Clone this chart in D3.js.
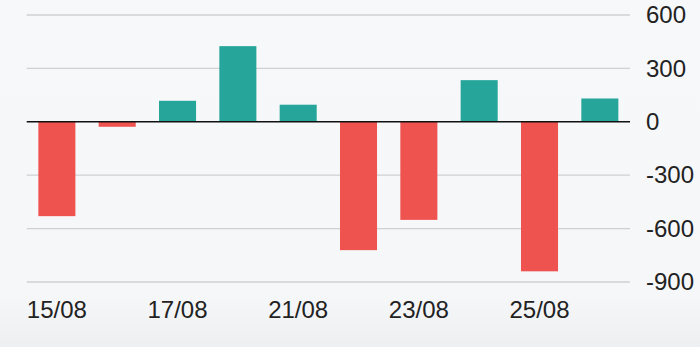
<!DOCTYPE html>
<html>
<head>
<meta charset="utf-8">
<script src="https://cdn.jsdelivr.net/npm/d3@7"></script>
<style>
  html, body { margin: 0; padding: 0; }
  body { width: 700px; height: 347px; overflow: hidden;
         background: linear-gradient(to bottom, #f7f8fa 0%, #f6f7f9 85%, #eeeff1 100%); }
</style>
</head>
<body>
<div id="chart"></div>
<script>
// Daily values (net flow)
const dates = ["15/08", "16/08", "17/08", "20/08", "21/08", "22/08", "23/08", "24/08", "25/08", "26/08"];
const values = [-530, -28, 118, 425, 96, -721, -551, 234, -840, 131];
const shownDates = ["15/08", "17/08", "21/08", "23/08", "25/08"];
const yTicks = [600, 300, 0, -300, -600, -900];

const width = 700, height = 347;
const margin = { left: 26.7, right: 630, top: 15, bottom: 282 };

const svg = d3.select("#chart")
    .append("svg")
    .attr("width", width)
    .attr("height", height);

const x = d3.scaleBand()
    .domain(dates)
    .range([margin.left, margin.right])
    .paddingInner(0.386)
    .paddingOuter(0.193);

const y = d3.scaleLinear()
    .domain([-900, 600])
    .range([margin.bottom, margin.top]);

// Gridlines
svg.append("g")
    .selectAll("line")
    .data(yTicks.filter(d => d !== 0))
    .join("line")
    .attr("x1", margin.left)
    .attr("x2", margin.right)
    .attr("y1", d => y(d))
    .attr("y2", d => y(d))
    .attr("stroke", "#cfd0d3")
    .attr("stroke-width", 1.3);

// Bars
svg.append("g")
    .selectAll("rect")
    .data(values.map((v, i) => ({ date: dates[i], value: v })))
    .join("rect")
    .attr("x", d => x(d.date))
    .attr("width", x.bandwidth())
    .attr("y", d => y(Math.max(0, d.value)))
    .attr("height", d => Math.abs(y(d.value) - y(0)))
    .attr("fill", d => d.value < 0 ? "#ef5350" : "#26a69a");

// Zero line
svg.append("line")
    .attr("x1", margin.left)
    .attr("x2", margin.right)
    .attr("y1", y(0))
    .attr("y2", y(0))
    .attr("stroke", "#111")
    .attr("stroke-width", 1.6);

// Right-hand y axis labels (plain hyphen for negatives)
const yAxis = d3.axisRight(y)
    .tickValues(yTicks)
    .tickFormat(d => String(d))
    .tickSize(0)
    .tickPadding(16);

svg.append("g")
    .attr("transform", `translate(${margin.right},0)`)
    .call(yAxis)
    .call(g => g.select(".domain").remove())
    .selectAll("text")
    .attr("font-family", "Liberation Sans, Arial, sans-serif")
    .attr("font-size", 24)
    .attr("fill", "#222");

// Bottom x axis labels (every other day)
const xAxis = d3.axisBottom(x)
    .tickValues(shownDates)
    .tickSize(0)
    .tickPadding(19);

svg.append("g")
    .attr("transform", `translate(0,${margin.bottom})`)
    .call(xAxis)
    .call(g => g.select(".domain").remove())
    .selectAll("text")
    .attr("font-family", "Liberation Sans, Arial, sans-serif")
    .attr("font-size", 24)
    .attr("fill", "#222");
</script>
</body>
</html>
